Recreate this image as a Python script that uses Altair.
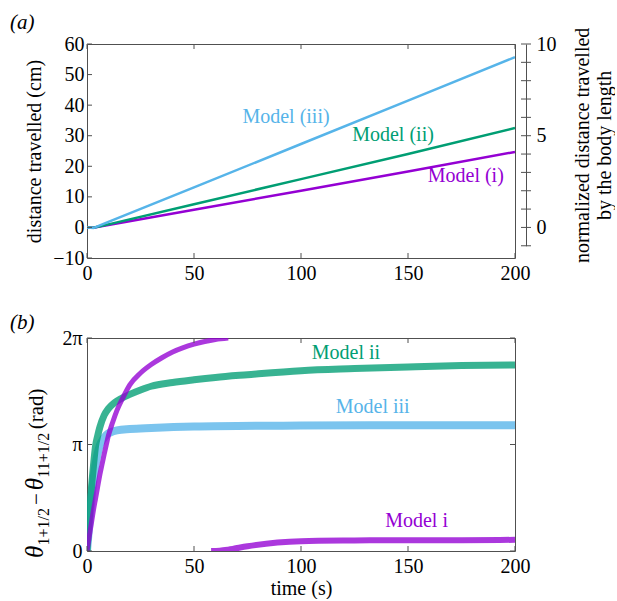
import math
import altair as alt
import pandas as pd

FONT = "Liberation Serif"
PURPLE = "#9400d3"
GREEN = "#009e73"
BLUE = "#56b4e9"
FRAME = "#505050"

# ---------------- panel (a) data ----------------
top_t = [0, 3, 6, 10, 50, 100, 150, 200]
top_i = [0, -0.1, 0.3, 0.8, 5.8, 12.0, 18.3, 24.7]
top_ii = [0, -0.1, 0.4, 1.0, 7.6, 15.8, 24.0, 32.5]
top_iii = [0, -0.2, 0.65, 1.8, 13.1, 27.3, 41.5, 55.7]

top_label_text = ["Model (iii)", "Model (ii)", "Model (i)"]
top_label_model = ["iii", "ii", "i"]
top_label_t = [93, 143, 177]
top_label_v = [36.2, 30.3, 16.7]

top_x_ticks = [0, 50, 100, 150, 200]
top_y_ticks = [-10, 0, 10, 20, 30, 40, 50, 60]
norm_ticks = [-1, 0, 1, 2, 3, 4, 5, 6, 7, 8, 9, 10]
norm_labels = [0, 5, 10]

# ---------------- panel (b) data ----------------
b_iii_t = [0, 1, 2, 3, 4, 5, 6, 7.5, 9, 11, 14, 20, 30, 50, 100, 150, 200]
b_iii_v = [0, 0.75, 1.5, 2.1, 2.55, 2.88, 3.12, 3.3, 3.42, 3.5, 3.56, 3.6, 3.63, 3.67, 3.7, 3.71, 3.71]

b_ii_t = [0, 1, 2, 3, 4, 5, 6, 8, 10, 13, 16, 20, 25, 30, 40, 50, 60, 75, 100, 125, 150, 175, 200]
b_ii_v = [0, 0.9, 1.8, 2.5, 3.1, 3.4, 3.65, 4.0, 4.2, 4.38, 4.5, 4.62, 4.75, 4.86, 4.97, 5.05, 5.12, 5.2, 5.32, 5.38, 5.43, 5.47, 5.49]

b_i_up_t = [0, 1, 2, 3, 4, 5, 6, 7, 8, 9, 10, 12, 14, 17, 20, 25, 30, 35, 40, 45, 50, 55, 60, 66]
b_i_up_v = [0, 0.4, 0.8, 1.2, 1.55, 1.9, 2.25, 2.55, 2.85, 3.13, 3.4, 3.8, 4.15, 4.55, 4.9, 5.25, 5.5, 5.7, 5.87, 6.0, 6.1, 6.18, 6.24, 6.283]
b_i_low_t = [58, 62, 66, 75, 89, 100, 125, 150, 175, 200]
b_i_low_v = [0.0, 0.01, 0.04, 0.14, 0.25, 0.29, 0.31, 0.32, 0.32, 0.33]

b_label_text = ["Model ii", "Model iii", "Model i"]
b_label_model = ["ii", "iii", "i"]
b_label_t = [121, 133.5, 154]
b_label_v = [5.85, 4.24, 0.89]

b_x_ticks = [0, 50, 100, 150, 200]
b_y_ticks = [0, math.pi, 2 * math.pi]

# y-axis title of panel (b), built from pieces (text, size, italic, subscript)
b_title_pieces = [
    ("θ", 25, True, False),
    ("1+1/2", 16, False, True),
    ("−", 21, False, False),
    ("θ", 25, True, False),
    ("11+1/2", 16, False, True),
    ("(rad)", 21, False, False),
]

W = 428
H1 = 214
H2 = 213

color_scale = alt.Scale(domain=["i", "ii", "iii"], range=[PURPLE, GREEN, BLUE])

# ---------------- panel (a) ----------------
top_rows = []
for name, vals in (("i", top_i), ("ii", top_ii), ("iii", top_iii)):
    for t, v in zip(top_t, vals):
        top_rows.append({"t": t, "v": v, "model": name})
top_df = pd.DataFrame(top_rows)

xa = alt.X(
    "t:Q",
    scale=alt.Scale(domain=[0, 200], nice=False),
    axis=alt.Axis(values=top_x_ticks, title=None, ticks=False, domain=False,
                  labelPadding=5, format="d", labelOverlap=False, labelFlush=False),
)
ya = alt.Y(
    "v:Q",
    scale=alt.Scale(domain=[-10, 60], nice=False),
    axis=alt.Axis(values=top_y_ticks, title="distance travelled (cm)", ticks=False,
                  domain=False, labelPadding=3, titlePadding=8, format="d",
                  labelOverlap=False, labelFlush=False),
)

top_lines = alt.Chart(top_df).mark_line(strokeWidth=2.5, clip=True).encode(
    x=xa, y=ya,
    color=alt.Color("model:N", scale=color_scale, legend=None),
)

top_lab_df = pd.DataFrame({"t": top_label_t, "v": top_label_v,
                           "text": top_label_text, "model": top_label_model})
top_labels = alt.Chart(top_lab_df).mark_text(font=FONT, fontSize=20).encode(
    x=xa, y=ya, text="text:N",
    color=alt.Color("model:N", scale=color_scale, legend=None),
)

tx_df = pd.DataFrame({"t": top_x_ticks})
top_xt_bottom = alt.Chart(tx_df).mark_rule(color=FRAME).encode(
    x=xa, y=alt.value(H1), y2=alt.value(H1 - 5))
top_xt_top = alt.Chart(tx_df).mark_rule(color=FRAME).encode(
    x=xa, y=alt.value(0), y2=alt.value(5))
ty_df = pd.DataFrame({"v": top_y_ticks})
top_yt_left = alt.Chart(ty_df).mark_rule(color=FRAME).encode(
    y=ya, x=alt.value(0), x2=alt.value(5))

panel_a_tag = alt.Chart(pd.DataFrame({"s": ["(a)"]})).mark_text(
    font=FONT, fontSize=21, fontStyle="italic", align="left", baseline="middle"
).encode(text="s:N", x=alt.value(-77), y=alt.value(-21))

inner_a = alt.layer(top_lines, top_labels, top_xt_bottom, top_xt_top, top_yt_left, panel_a_tag)

norm_df = pd.DataFrame({"n": norm_ticks})
right_axis = alt.Chart(norm_df).mark_rule(color=FRAME).encode(
    y=alt.Y(
        "n:Q",
        scale=alt.Scale(domain=[-1, 10], range=[H1 * 66 / 70, 0], nice=False, zero=False),
        axis=alt.Axis(orient="right", offset=11, values=norm_labels, ticks=False,
                      domain=True, domainColor=FRAME, labelPadding=10,
                      title=["normalized distance travelled", "by the body length"],
                      titleAngle=270, titlePadding=14, format="d",
                      labelOverlap=False, labelFlush=False),
    ),
    x=alt.value(W + 6), x2=alt.value(W + 16),
)

panel_a = alt.layer(inner_a, right_axis).resolve_scale(y="independent").properties(
    width=W, height=H1)

# ---------------- panel (b) ----------------
def series_df(ts, vs, name):
    return pd.DataFrame({"t": ts, "v": vs, "model": name})

xb = alt.X(
    "t:Q",
    scale=alt.Scale(domain=[0, 200], nice=False),
    axis=alt.Axis(values=b_x_ticks, title="time (s)", ticks=False, domain=False,
                  labelPadding=5, titlePadding=2, format="d",
                  labelOverlap=False, labelFlush=False),
)
yb = alt.Y(
    "v:Q",
    scale=alt.Scale(domain=[0, 2 * math.pi], nice=False),
    axis=alt.Axis(values=b_y_ticks, ticks=False, domain=False, labelPadding=5,
                  labelExpr="datum.value < 1 ? '0' : (datum.value < 4 ? 'π' : '2π')",
                  title=None, labelOverlap=False, labelFlush=False),
)

def band(df, color, width):
    return alt.Chart(df).mark_line(strokeWidth=width, opacity=0.78, clip=True,
                                   color=color, interpolate="monotone").encode(x=xb, y=yb)

b_iii = band(series_df(b_iii_t, b_iii_v, "iii"), BLUE, 8)
b_ii = band(series_df(b_ii_t, b_ii_v, "ii"), GREEN, 7)
b_i_up = band(series_df(b_i_up_t, b_i_up_v, "i"), PURPLE, 5)
b_i_low = band(series_df(b_i_low_t, b_i_low_v, "i"), PURPLE, 6)

b_lab_df = pd.DataFrame({"t": b_label_t, "v": b_label_v,
                         "text": b_label_text, "model": b_label_model})
b_labels = alt.Chart(b_lab_df).mark_text(font=FONT, fontSize=20).encode(
    x=xb, y=yb, text="text:N",
    color=alt.Color("model:N", scale=color_scale, legend=None),
)

bx_df = pd.DataFrame({"t": b_x_ticks})
b_xt_bottom = alt.Chart(bx_df).mark_rule(color=FRAME).encode(
    x=xb, y=alt.value(H2), y2=alt.value(H2 - 5))
b_xt_top = alt.Chart(bx_df).mark_rule(color=FRAME).encode(
    x=xb, y=alt.value(0), y2=alt.value(5))
by_df = pd.DataFrame({"v": b_y_ticks})
b_yt_left = alt.Chart(by_df).mark_rule(color=FRAME).encode(
    y=yb, x=alt.value(0), x2=alt.value(5))
b_yt_right = alt.Chart(by_df).mark_rule(color=FRAME).encode(
    y=yb, x=alt.value(W), x2=alt.value(W - 5))

panel_b_tag = alt.Chart(pd.DataFrame({"s": ["(b)"]})).mark_text(
    font=FONT, fontSize=21, fontStyle="italic", align="left", baseline="middle"
).encode(text="s:N", x=alt.value(-77), y=alt.value(-15))

# rotated title pieces, stacked upward from the bottom
widths = {"θ": 0.5, "1": 0.5, "2": 0.5, "+": 0.564, "/": 0.278, "−": 0.564,
          "(": 0.333, ")": 0.333, "r": 0.333, "a": 0.444, "d": 0.5}
title_layers = []
y_cursor = 220.0
for txt, size, italic, sub in b_title_pieces:
    w = sum(widths.get(c, 0.5) for c in txt) * size
    gap = 3 if txt in ("−", "(rad)") else 0
    y_cursor -= gap
    kw = dict(font=FONT, fontSize=size, angle=270, align="left", baseline="alphabetic",
              color="black")
    if italic:
        kw["fontStyle"] = "italic"
    title_layers.append(
        alt.Chart(pd.DataFrame({"s": [txt]})).mark_text(**kw).encode(
            text="s:N", x=alt.value(-38 if sub else -44), y=alt.value(y_cursor))
    )
    y_cursor -= w + (3 if txt == "−" else 0)

panel_b = alt.layer(b_iii, b_ii, b_i_up, b_i_low, b_labels,
                    b_xt_bottom, b_xt_top, b_yt_left, b_yt_right, panel_b_tag,
                    *title_layers).properties(width=W, height=H2)

chart = alt.vconcat(panel_a, panel_b, spacing=27).properties(
    padding={"left": 9, "top": 11, "right": 0, "bottom": 0},
    background="white",
).configure_view(
    stroke=FRAME, strokeWidth=1,
).configure_axis(
    labelFont=FONT, titleFont=FONT, labelFontSize=20, titleFontSize=20,
    labelColor="black", titleColor="black", titleFontWeight="normal", grid=False,
    labelOverlap=False, labelFlush=False,
)

chart.save("out.html", embed_options={"renderer": "svg", "actions": False})
